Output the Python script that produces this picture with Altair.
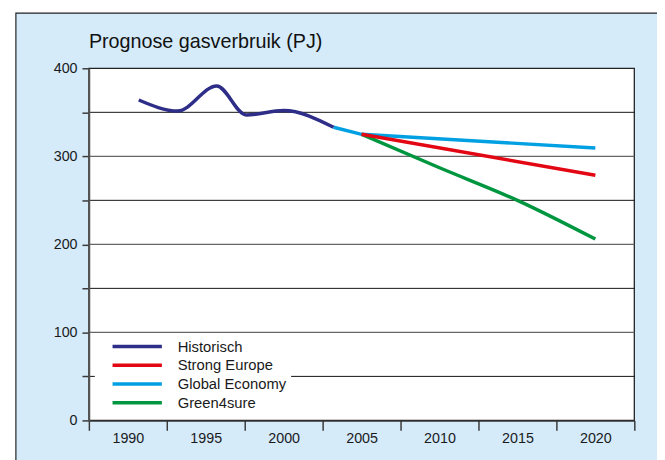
import altair as alt
import pandas as pd

# ---- data ----
series_names = ["Historisch", "Strong Europe", "Global Economy", "Green4sure"]
series_colors = ["#2E2D88", "#E30613", "#00A0E3", "#009640"]

hist_years = [1990.7, 1993.2, 1995.7, 1997.6, 2000.0, 2003.2]
hist_values = [364, 351.5, 380, 347, 352, 333]

ge_years = [2003.2, 2005, 2020]
ge_values = [333, 325, 309.5]

se_years = [2005, 2020]
se_values = [325, 278.5]

g4_years = [2005, 2010, 2015, 2020]
g4_values = [325, 287, 250, 206]

x_domain = [1987.5, 2022.5]
x_tick_values = [1987.5, 1990, 1992.5, 1995, 1997.5, 2000, 2002.5, 2005,
                 2007.5, 2010, 2012.5, 2015, 2017.5, 2020, 2022.5]
y_domain = [0, 400]
y_tick_values = [0, 50, 100, 150, 200, 250, 300, 350, 400]
grid_major = [100, 200, 300]
grid_minor = [50, 150, 250, 350]

FONT = "Liberation Sans"
W, H = 553, 357
NBSP = "\u00a0" * 5

rows = []
for name, ys, vs in [("Historisch", hist_years, hist_values),
                     ("Global Economy", ge_years, ge_values),
                     ("Strong Europe", se_years, se_values),
                     ("Green4sure", g4_years, g4_values)]:
    for y, v in zip(ys, vs):
        rows.append({"series": name, "year": y, "value": v})
df = pd.DataFrame(rows)

xscale = alt.Scale(domain=x_domain, nice=False, zero=False)
yscale = alt.Scale(domain=y_domain, nice=False)

xaxis = alt.Axis(
    values=x_tick_values,
    labelExpr="datum.value % 5 == 0 ? '' + datum.value : ''",
    tickOpacity={"condition": {"test": "datum.value % 5 == 0", "value": 0}, "value": 1},
    tickSize=10, tickColor="#3a3a3a", tickWidth=1.5,
    domainColor="#333333", domainWidth=1.5,
    labelFont=FONT, labelFontSize=14.5, labelColor="#1a1a1a",
    labelPadding=1, labelFlush=False, labelOverlap=False,
    grid=False, title=None, zindex=1,
)
yaxis = alt.Axis(
    values=y_tick_values,
    labelExpr="datum.value % 100 == 0 ? datum.label : ''",
    tickSize=7, tickColor="#3a3a3a", tickWidth=1.5,
    domainColor="#555555", domainWidth=1.8,
    labelFont=FONT, labelFontSize=14.5, labelColor="#1a1a1a",
    labelPadding=5, labelOverlap=False,
    grid=False, title=None, zindex=1,
)

# frame / background decoration
frame = alt.Chart(pd.DataFrame({"k": [0]})).mark_rect(
    fill="#D5EBFA", stroke="#222222", strokeWidth=1.2
).encode(
    x=alt.value(-74), x2=alt.value(760), y=alt.value(-56), y2=alt.value(520)
)

plot_rect = alt.Chart(pd.DataFrame({"year": [x_domain[0]], "year2": [x_domain[1]],
                                    "value": [y_domain[0]], "value2": [y_domain[1]]})).mark_rect(
    fill="white", stroke="#222222", strokeWidth=1.3
).encode(
    x=alt.X("year:Q", scale=xscale, axis=xaxis), x2="year2:Q",
    y=alt.Y("value:Q", scale=yscale, axis=yaxis), y2="value2:Q",
)

g_major = alt.Chart(pd.DataFrame({"value": grid_major})).mark_rule(
    color="#666666", strokeWidth=1.4
).encode(y=alt.Y("value:Q", scale=yscale, axis=yaxis))

g_minor = alt.Chart(pd.DataFrame({"value": grid_minor})).mark_rule(
    color="#111111", strokeWidth=1
).encode(y=alt.Y("value:Q", scale=yscale, axis=yaxis))

color = alt.Color(
    "series:N",
    scale=alt.Scale(domain=series_names, range=series_colors),
    legend=alt.Legend(
        title=None, orient="none", legendX=6, legendY=269,
        fillColor="white", padding=4, rowPadding=0,
        symbolType="stroke", symbolSize=2500, symbolStrokeWidth=3.5,
        clipHeight=18.3, symbolOffset=12, labelOffset=14,
        labelExpr="datum.label + '" + NBSP + "'",
        labelFont=FONT, labelFontSize=15, labelColor="#1a1a1a",
    ),
)

def line_layer(name, interp):
    return alt.Chart(df).transform_filter(
        alt.datum.series == name
    ).mark_line(strokeWidth=3.5, interpolate=interp).encode(
        x=alt.X("year:Q", scale=xscale, axis=xaxis),
        y=alt.Y("value:Q", scale=yscale, axis=yaxis),
        color=color,
    )

chart = alt.layer(
    frame, plot_rect, g_minor, g_major,
    line_layer("Global Economy", "linear"), line_layer("Green4sure", "monotone"),
    line_layer("Strong Europe", "linear"), line_layer("Historisch", "monotone"),
).properties(
    width=W, height=H,
    title=alt.TitleParams(
        "Prognose gasverbruik (PJ)", anchor="start", frame="group",
        font=FONT, fontSize=20, fontWeight="normal", color="#111111",
        offset=17, dy=57,
    ),
    autosize=alt.AutoSizeParams(type="none"),
    padding={"left": 82, "top": 58, "right": 23, "bottom": 37},
).configure(background="white").configure_view(strokeWidth=0)

chart.save("out.html", embed_options={"renderer": "svg", "actions": False})
